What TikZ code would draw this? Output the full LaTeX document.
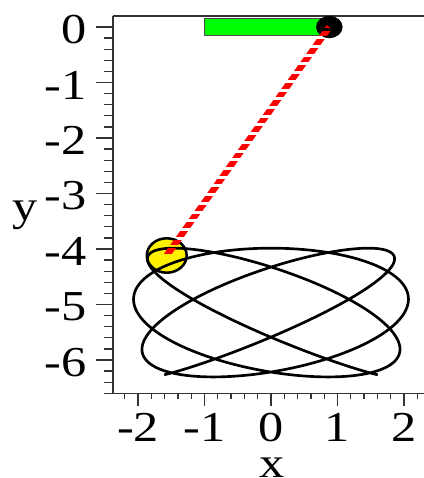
\documentclass[tikz,border=0pt]{standalone}
\usepackage{fontspec}
\setmainfont{Liberation Serif}
\usetikzlibrary{calc}
\newcommand{\wlbl}[1]{\scalebox{1.18}[1]{#1}}
\begin{document}
\begin{tikzpicture}[x=49.875pt,y=41.625pt,
  axisline/.style={draw=black!80,line width=1pt},
  tickmark/.style={draw=black!80,line width=1pt},
  ticklabel/.style={inner sep=0pt,font=\fontsize{32}{36}\selectfont},
  trace/.style={draw=black,line width=2pt,line join=round,line cap=butt},
  rail/.style={fill=green,draw=black!70,line width=0.8pt},
  bobstyle/.style={fill=yellow,draw=black,line width=1.9pt},
  ropedash/.style={fill=red}]
\useasboundingbox (-4.0752,0.4865) rectangle (2.3008,-8.1261);
% axes frame
\coordinate (ctop) at (-2.376,0.198);
\coordinate (cbot) at (-2.376,-6.6);
\coordinate (rtop) at (2.3008,0.198);
\coordinate (rbot) at (2.3008,-6.6);
\draw[axisline] (ctop) -- (cbot);
\draw[axisline] (ctop) -- (rtop);
\draw[axisline] (cbot) -- (rbot);
% y ticks
\foreach \k in {0,...,33} \draw[tickmark] (-2.376,{-\k/5}) -- ++(-6.4pt,0);
\foreach \k in {0,...,6} \draw[tickmark] (-2.376,{-\k}) -- ++(-12.75pt,0);
% x ticks
\foreach \k in {-11,...,11} \draw[tickmark] ({\k/5},-6.6) -- ++(0,-4.5pt);
\foreach \k in {-2,...,2} \draw[tickmark] ({\k},-6.6) -- ++(0,-9.2pt);
% y labels
\foreach \v/\s in {0/0,1/-1,2/-2,3/-3,4/-4,5/-5,6/-6}
  \node[ticklabel,anchor=east] (ylab\v) at (-2.767,{-\v}) [yshift=-1.9pt] {\wlbl{\s}};
% x labels
\foreach \v/\s in {-2/-2,-1/-1,0/0,1/1,2/2}
  \node[ticklabel,anchor=north] (xlab\v) at ({\v},-6.955) {\wlbl{\s}};
\node[ticklabel,anchor=base] (yname) at (-3.699,-3.495) {\wlbl{y}};
\node[ticklabel,anchor=base] (xname) at (0.015,-8.117) {\wlbl{x}};
% rail and pivot
\coordinate (pivot) at (0.877,0);
\coordinate (bob) at (-1.568,-4.117);
\filldraw[rail] (-1,0.15) rectangle (0.877,-0.15);
\fill[black] (pivot) ellipse [x radius=0.2,y radius=0.2];
% bob
\filldraw[bobstyle] (bob) ellipse [x radius=0.3,y radius=0.31];
% trajectory
\draw[trace] plot[variable=\t,domain=29.8:1230.2,samples=900]
  ({-(1.85+0.24*sin(\t/7)^4)*cos(\t)},
   {-5.145-1.16*cos(0.875*\t-11.17)});
% spring / rope
\begin{scope}
  \clip ($(pivot)+(0.0398,-0.034)$) -- ($(bob)+(0.0398,-0.034)$)
        -- ($(bob)+(-0.0398,0.034)$) -- ($(pivot)+(-0.0398,0.034)$) -- cycle;
  \foreach \k in {0,...,28}
    \fill[ropedash] (-2,{0.25-\k*0.157}) rectangle (1.2,{0.25-\k*0.157-0.103});
\end{scope}
\end{tikzpicture}
\end{document}
